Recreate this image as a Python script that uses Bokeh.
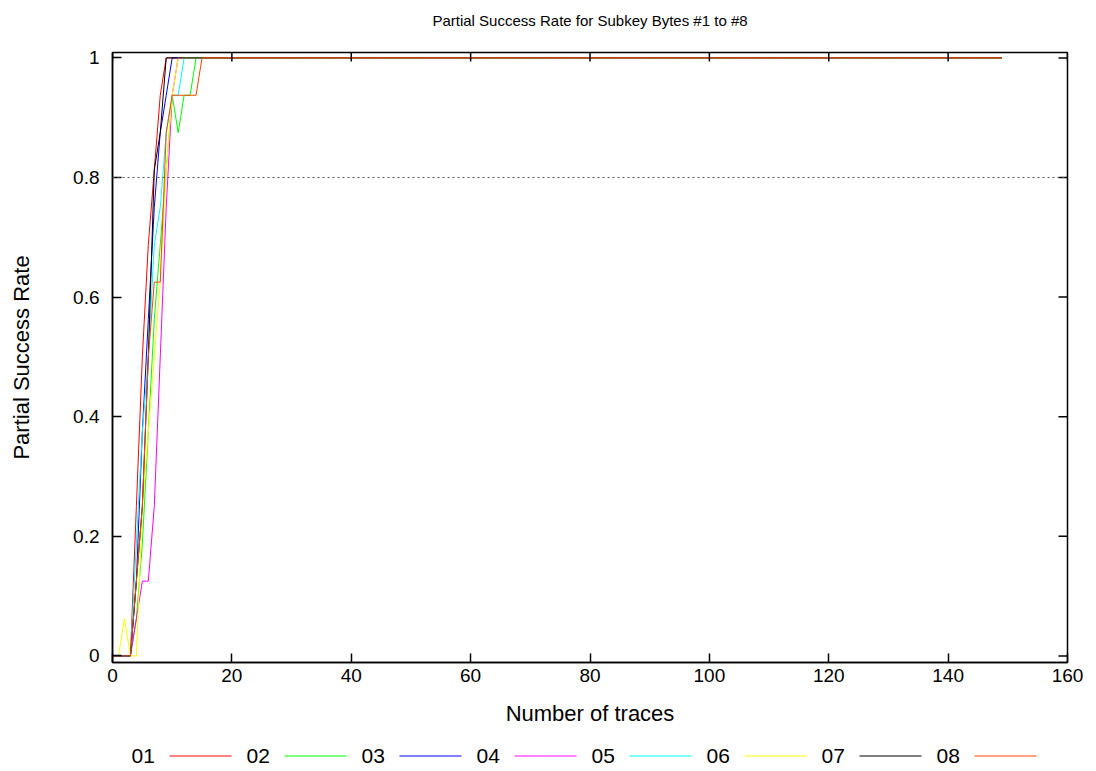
from bokeh.plotting import figure
from bokeh.models import FixedTicker, Span, ColumnDataSource
from bokeh.layouts import column
from bokeh.core.properties import value
from bokeh.embed import file_html
from bokeh.resources import INLINE

# ---- data -------------------------------------------------------------
n_traces = list(range(0, 150))          # 0 .. 149 traces

series_names = ["01", "02", "03", "04", "05", "06", "07", "08"]
series_colors = ["#ff0000", "#00ff00", "#0000ff", "#ff00ff",
                 "#00ffff", "#ffff00", "#000000", "#ff4500"]

# success rate for the first 16 trace counts (0..15); afterwards every byte stays at 1
byte01 = [0, 0, 0, 0, 0.25, 0.5, 0.6875, 0.8125, 0.9375, 1, 1, 1, 1, 1, 1, 1]
byte02 = [0, 0, 0, 0, 0.0625, 0.1875, 0.375, 0.5625, 0.6875, 0.8125, 0.9375, 0.875, 0.9375, 0.9375, 1, 1]
byte03 = [0, 0, 0, 0, 0.125, 0.375, 0.5625, 0.75, 0.875, 0.9375, 1, 1, 1, 1, 1, 1]
byte04 = [0, 0, 0, 0, 0.0625, 0.125, 0.125, 0.25, 0.5, 0.75, 0.9375, 1, 1, 1, 1, 1]
byte05 = [0, 0, 0, 0, 0.1875, 0.375, 0.5, 0.6875, 0.75, 0.875, 0.9375, 0.9375, 1, 1, 1, 1]
byte06 = [0, 0, 0.0625, 0, 0, 0.25, 0.375, 0.5, 0.625, 0.8125, 0.9375, 1, 1, 1, 1, 1]
byte07 = [0, 0, 0, 0, 0.125, 0.25, 0.5, 0.8125, 0.875, 1, 1, 1, 1, 1, 1, 1]
byte08 = [0, 0, 0, 0, 0.125, 0.25, 0.5, 0.625, 0.625, 0.875, 0.9375, 0.9375, 0.9375, 0.9375, 0.9375, 1]
plateau = 1.0

x_ticks = [0, 20, 40, 60, 80, 100, 120, 140, 160]
y_ticks = [0, 0.2, 0.4, 0.6, 0.8, 1]
y_tick_labels = {0: "0", 0.2: "0.2", 0.4: "0.4", 0.6: "0.6", 0.8: "0.8", 1: "1"}
threshold = 0.8

title_text = "Partial Success Rate for Subkey Bytes #1 to #8"
x_label = "Number of traces"
y_label = "Partial Success Rate"

X_LO, X_HI = 0, 160
Y_LO, Y_HI = -0.011, 1.009

FONT = "Liberation Sans"
TICK_FS = "19px"
LABEL_FS = "22px"
LEGEND_FS = "21px"
TITLE_FS = "15px"

all_bytes = [byte01, byte02, byte03, byte04, byte05, byte06, byte07, byte08]

W, TOTAL_H = 1096, 771
HEAD_H = 46
BL, BR, BT, BB = 112, 29, 6, 70
FRAME_H = 610
H = BT + FRAME_H + BB
LEG_H = TOTAL_H - HEAD_H - H


def bare(fig):
    fig.axis.visible = False
    fig.xgrid.visible = False
    fig.ygrid.visible = False
    fig.outline_line_color = None


# ---- title row (frame aligned with the plot frame, pixel coordinates) ---
head = figure(width=W, height=HEAD_H, x_range=(BL, W - BR), y_range=(0, HEAD_H),
              output_backend="svg", toolbar_location=None, min_border=0)
bare(head)
head.text(x=[(BL + W - BR) / 2], y=[HEAD_H - 20], text=[title_text],
          text_font=value(FONT), text_font_size=TITLE_FS,
          text_baseline="middle", text_align="center", text_color="black")

# ---- main plot --------------------------------------------------------
p = figure(width=W, height=H, x_range=(X_LO, X_HI), y_range=(Y_LO, Y_HI),
           output_backend="svg", toolbar_location=None,
           min_border_left=BL, min_border_right=BR,
           min_border_top=BT, min_border_bottom=BB)

p.xgrid.visible = False
p.ygrid.visible = False
p.outline_line_color = "black"
p.outline_line_width = 1.5

p.add_layout(Span(location=threshold, dimension="width", line_color="#555555",
                  line_dash="2 3", line_width=1))

for name, color, vals in zip(series_names, series_colors, all_bytes):
    ys = vals + [plateau] * (len(n_traces) - len(vals))
    src = ColumnDataSource(dict(x=n_traces, y=ys))
    p.line("x", "y", source=src, line_color=color, line_width=1)

TICK_LEN = 9  # px, drawn inward


def style_axis(ax):
    ax.major_tick_in = TICK_LEN
    ax.major_tick_out = 0
    ax.minor_tick_line_color = None
    ax.axis_line_color = "black"
    ax.axis_line_width = 1.5
    ax.major_tick_line_width = 1.5
    ax.major_label_text_font = FONT
    ax.major_label_text_font_size = TICK_FS
    ax.major_label_text_color = "black"
    ax.axis_label_text_font = FONT
    ax.axis_label_text_font_size = LABEL_FS
    ax.axis_label_text_font_style = "normal"
    ax.axis_label_text_color = "black"


xax = p.xaxis[0]
xax.ticker = FixedTicker(ticks=x_ticks)
xax.axis_label = x_label
xax.major_label_standoff = 6
xax.axis_label_standoff = 16
style_axis(xax)

yax = p.yaxis[0]
yax.ticker = FixedTicker(ticks=y_ticks)
yax.major_label_overrides = y_tick_labels
yax.axis_label = y_label
yax.major_label_standoff = 13
yax.axis_label_standoff = 36
style_axis(yax)

# mirrored inward ticks on the top and right border
frame_w = W - BL - BR
dy = TICK_LEN * (Y_HI - Y_LO) / FRAME_H
dx = TICK_LEN * (X_HI - X_LO) / frame_w
p.segment(x0=x_ticks, y0=[Y_HI] * len(x_ticks), x1=x_ticks, y1=[Y_HI - dy] * len(x_ticks),
          line_color="black", line_width=1.5)
p.segment(x0=[X_HI] * len(y_ticks), y0=y_ticks, x1=[X_HI - dx] * len(y_ticks), y1=y_ticks,
          line_color="black", line_width=1.5)

# ---- legend row (label first, then line sample) -----------------------
leg = figure(width=W, height=LEG_H, x_range=(BL, W - BR), y_range=(0, LEG_H),
             output_backend="svg", toolbar_location=None, min_border=0)
bare(leg)

step = 115
first = 131
row_y = 16
for i, (name, color) in enumerate(zip(series_names, series_colors)):
    left = first + step * i
    leg.text(x=[left], y=[row_y], text=[name], text_font=value(FONT),
             text_font_size=LEGEND_FS, text_baseline="middle", text_align="left",
             text_color="black")
    leg.segment(x0=[left + 38], y0=[row_y - 0.5], x1=[left + 100], y1=[row_y - 0.5],
                line_color=color, line_width=1)

layout = column(head, p, leg, spacing=0)
open("out.html", "w").write(file_html(layout, INLINE))
